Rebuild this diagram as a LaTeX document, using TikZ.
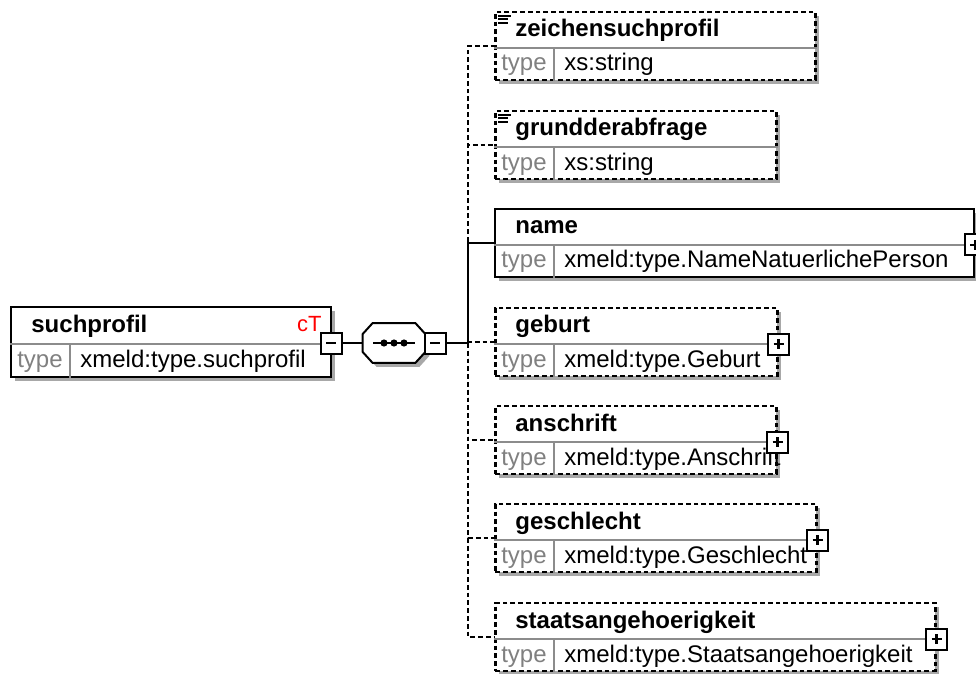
\documentclass[tikz,border=0pt]{standalone}
\usepackage{fontspec}
\setmainfont{Liberation Sans}
\usetikzlibrary{positioning,shadows,calc}
\definecolor{typegray}{HTML}{808080}
\definecolor{rulegray}{HTML}{8C8C8C}
\definecolor{shadowgray}{HTML}{A8A8A8}
\definecolor{ctred}{HTML}{FF0000}
\tikzset{
  elem/.style={rectangle,draw=black,line width=1pt,fill=white,minimum height=34pt,inner sep=0pt,anchor=west,
    drop shadow={shadow xshift=2pt,shadow yshift=-2pt,fill=shadowgray,opacity=1}},
  optelem/.style={elem,line width=1.3pt,dash pattern=on 2.4pt off 1.5pt},
  rowline/.style={draw=rulegray,line width=1pt},
  elname/.style={anchor=base west,font=\fontsize{12}{14}\selectfont\bfseries,inner sep=0pt},
  eltype/.style={anchor=base,font=\fontsize{12}{14}\selectfont,text=typegray,inner sep=0pt},
  elvalue/.style={anchor=base west,font=\fontsize{12}{14}\selectfont,inner sep=0pt},
  togglebox/.style={rectangle,draw=black,line width=1pt,fill=white,minimum size=10.5pt,inner sep=0pt},
  signline/.style={line width=1.3pt,draw=black},
  seqframe/.style={draw=black,line width=1pt,fill=white,
    drop shadow={shadow xshift=2pt,shadow yshift=-2pt,fill=shadowgray,opacity=1}},
  conn/.style={line width=1pt,draw=black},
  optconn/.style={conn,line width=1.3pt,dash pattern=on 2.4pt off 1.5pt}
}

\begin{document}
\begin{tikzpicture}[x=0.5pt,y=-0.5pt]
  \useasboundingbox (0,0) rectangle (976,674);
  % root element
  \node[elem, minimum width=160pt, minimum height=35pt] (suchprofil) at (10,342) {};
  \draw[rowline] ($(suchprofil.west)+(0,2)$) -- ($(suchprofil.east)+(0,2)$);
  \draw[rowline] ($(suchprofil.west)+(60,2)$) -- ($(suchprofil.south west)+(60,0)$);
  \node[elname] at ($(suchprofil.west)+(21,-9)$) {suchprofil};
  \node[anchor=base east, inner sep=0pt, font=\fontsize{11}{13}\selectfont, text=ctred] at ($(suchprofil.north east)+(-10,25)$) {cT};
  \node[eltype] at ($(suchprofil.west)+(30,25)$) {type};
  \node[elvalue] at ($(suchprofil.west)+(70,25)$) {xmeld:type.suchprofil};
  \node[togglebox] (root-minus) at (331,343) {};
  \draw[signline] ($(root-minus.center)+(-5,0)$) -- ($(root-minus.center)+(5,0)$);

  % sequence
  \node[minimum width=31pt, minimum height=19.5pt, inner sep=0pt] (seq) at (394,343) {};
  \draw[seqframe] ($(seq.north west)+(10,0)$) -- ($(seq.north east)+(-10,0)$)
    -- ($(seq.north east)+(0,11)$) -- ($(seq.south east)+(0,-11)$)
    -- ($(seq.south east)+(-10,0)$) -- ($(seq.south west)+(10,0)$)
    -- ($(seq.south west)+(0,-11)$) -- ($(seq.north west)+(0,11)$) -- cycle;
  \draw[conn] ($(seq.center)+(-21,0)$) -- ($(seq.center)+(21,0)$);
  \foreach \dx in {-10,0,10}
    \fill ($(seq.center)+(\dx,0)$) circle (1.8pt);
  \node[togglebox] (seq-minus) at (435,343) {};
  \draw[signline] ($(seq-minus.center)+(-5,0)$) -- ($(seq-minus.center)+(5,0)$);
  \coordinate (bus) at (468,343);
  \draw[conn] (root-minus) -- (seq);
  \draw[conn] (seq-minus) -- (bus);

  % children
  \foreach \eid/\cy/\bw/\fr/\cst/\lab/\typ in {
    zeichen/46/160pt/optelem/optconn/zeichensuchprofil/xs:string,
    grund/145/140.5pt/optelem/optconn/grundderabfrage/xs:string,
    name/243/239.5pt/elem/conn/name/xmeld:type.NameNatuerlichePerson,
    geburt/342/141pt/optelem/optconn/geburt/xmeld:type.Geburt,
    anschrift/440/140.5pt/optelem/optconn/anschrift/xmeld:type.Anschrift,
    geschlecht/538/160.5pt/optelem/optconn/geschlecht/xmeld:type.Geschlecht,
    staats/637/220pt/optelem/optconn/staatsangehoerigkeit/xmeld:type.Staatsangehoerigkeit}{
    \node[\fr, minimum width=\bw] (\eid) at (494,\cy) {};
    \draw[rowline] ($(\eid.west)+(0,2)$) -- ($(\eid.east)+(0,2)$);
    \draw[rowline] ($(\eid.west)+(60,2)$) -- ($(\eid.south west)+(60,0)$);
    \node[elname] at ($(\eid.west)+(21,-9)$) {\lab};
    \node[eltype] at ($(\eid.west)+(30,25)$) {type};
    \node[elvalue] at ($(\eid.west)+(70,25)$) {\typ};
    \draw[\cst] (bus) |- (\eid.west);
  }

  % text content icons
  \foreach \eid in {zeichen,grund}{
    \draw[line width=1pt] ($(\eid.north west)+(4,5)$) -- ++(13,0);
    \draw[line width=1pt] ($(\eid.north west)+(4,8.5)$) -- ++(10,0);
    \draw[line width=1pt] ($(\eid.north west)+(4,12)$) -- ++(10,0);
  }

  % expand buttons
  \foreach \eid in {name,geburt,anschrift,geschlecht,staats}{
    \node[togglebox] (\eid-plus) at ($(\eid.east)+(0,2)$) {};
    \draw[signline] ($(\eid-plus.center)+(-5,0)$) -- ($(\eid-plus.center)+(5,0)$);
    \draw[signline] ($(\eid-plus.center)+(0,-5)$) -- ($(\eid-plus.center)+(0,5)$);
  }
\end{tikzpicture}
\end{document}
